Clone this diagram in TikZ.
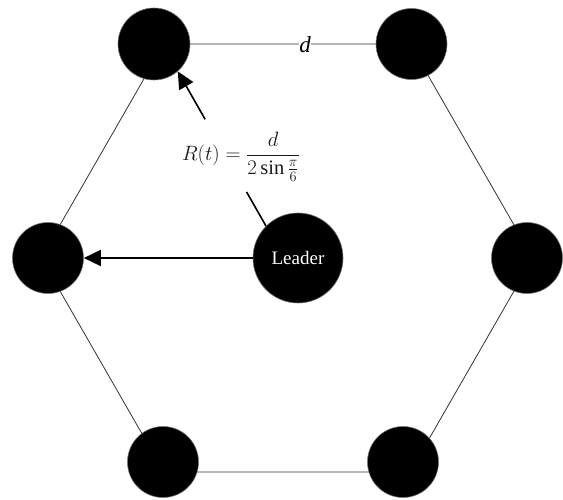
\documentclass[tikz,border=0pt]{standalone}
\usepackage{amsmath}
\usepackage{fontspec}
\setmainfont{Liberation Serif}
\usetikzlibrary{arrows.meta,calc}
\begin{document}
\begin{tikzpicture}[x=1pt,y=-1pt,
  robot/.style={circle,fill=black,draw=black!55,line width=0.6pt,inner sep=0pt,minimum size=71pt},
  leaderbox/.style={circle,fill=black,draw=black!55,line width=0.6pt,inner sep=0pt,minimum size=90pt,
    text=white,font=\fontsize{19}{21}\selectfont},
  hexline/.style={draw=black!80,line width=0.8pt},
  arr/.style={line width=1.6pt,-{Triangle[length=17pt,width=16pt]}},
  plainarr/.style={line width=1.6pt}
]
\useasboundingbox (0,0) rectangle (563,500);
% hexagon corners
\coordinate (h1) at (164,44);
\coordinate (h2) at (410,44);
\coordinate (h3) at (533,258);
\coordinate (h4) at (410,472);
\coordinate (h5) at (164,472);
\coordinate (h6) at (41,258);
\draw[hexline] (h1) -- (h2) -- (h3) -- (h4) -- (h5) -- (h6) -- cycle;
% robots
\node[robot,minimum size=72pt] (tl) at (154,44) {};
\node[robot] (tr) at (411.5,44) {};
\node[robot] (l) at (48,258) {};
\node[robot] (r) at (527,258) {};
\node[robot] (bl) at (163,462) {};
\node[robot] (br) at (403,462) {};
\node[leaderbox] (L) at (298,258) {Leader};
% distance label
\node[fill=white,inner sep=0.5pt,font=\fontsize{23}{25}\selectfont\itshape] (dlab) at (305,45) {d};
% arrows
\draw[arr] (L.west) -- (l.east);
\coordinate (g1) at ($(L.135)!0.22!(tl.-49)$);
\coordinate (g2) at ($(L.135)!0.69!(tl.-49)$);
\draw[plainarr] (L.135) -- (g1);
\draw[arr] (g2) -- (tl.-49);
\node[text=black!90,font=\fontsize{20.5}{23}\selectfont] (flab) at (241,157)
  {$R(t)=\dfrac{d}{2\sin\frac{\pi}{6}}$};
\end{tikzpicture}
\end{document}
